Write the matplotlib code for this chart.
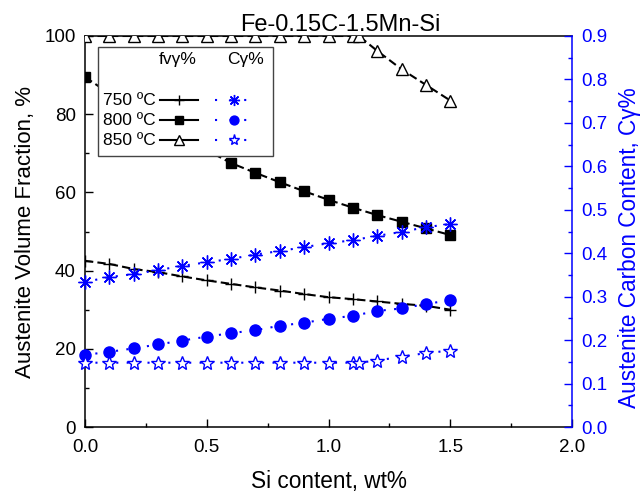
import matplotlib
matplotlib.use("Agg")
import matplotlib.pyplot as plt
from matplotlib.lines import Line2D
from matplotlib.patches import Rectangle
from matplotlib.ticker import MultipleLocator, FormatStrFormatter

plt.rcParams['font.family'] = ['Liberation Sans', 'DejaVu Sans']

# ---------------- data ----------------
si = [0.0, 0.1, 0.2, 0.3, 0.4, 0.5, 0.6, 0.7, 0.8, 0.9, 1.0, 1.1, 1.2, 1.3, 1.4, 1.5]
si_850 = [0.0, 0.1, 0.2, 0.3, 0.4, 0.5, 0.6, 0.7, 0.8, 0.9, 1.0, 1.1, 1.125, 1.2, 1.3, 1.4, 1.5]

fv_750 = [42.5, 41.7, 40.4, 39.6, 38.5, 37.5, 36.6, 35.7, 34.9, 34.0, 33.2, 32.7, 32.1, 31.5, 31.0, 30.0]
fv_800 = [89.5, 85.3, 81.3, 77.6, 74.2, 70.8, 67.5, 65.0, 62.6, 60.3, 58.1, 56.1, 54.2, 52.5, 50.8, 49.1]
fv_850 = [100, 100, 100, 100, 100, 100, 100, 100, 100, 100, 100, 100, 100, 96.2, 91.5, 87.5, 83.5]

c_750 = [0.334, 0.345, 0.352, 0.361, 0.371, 0.379, 0.387, 0.397, 0.405, 0.414, 0.423, 0.430, 0.440, 0.449, 0.460, 0.467]
c_800 = [0.166, 0.173, 0.181, 0.190, 0.199, 0.208, 0.216, 0.223, 0.233, 0.240, 0.249, 0.256, 0.267, 0.273, 0.283, 0.292]
c_850 = [0.148, 0.148, 0.148, 0.148, 0.148, 0.148, 0.148, 0.148, 0.148, 0.148, 0.148, 0.148, 0.148, 0.153, 0.162, 0.170, 0.176]

temps = ["750 ºC", "800 ºC", "850 ºC"]
title = "Fe-0.15C-1.5Mn-Si"
xlabel = "Si content, wt%"
ylabel_l = "Austenite Volume Fraction, %"
ylabel_r = "Austenite Carbon Content, Cγ%"
hdr_fv = "fvγ%"
hdr_c = "Cγ%"

# ---------------- styles ----------------
BLUE = '#0000ff'
dash = (0, (4, 2))
dot = (0, (1, 4))
fv_styles = [dict(marker='+', ms=9, mfc='black', mec='black', mew=1.0),
             dict(marker='s', ms=7, mfc='black', mec='black', mew=1.0),
             dict(marker='^', ms=8.5, mfc='white', mec='black', mew=1.0)]
c_styles = [dict(marker=(8, 2, 0), ms=10, mfc=BLUE, mec=BLUE, mew=1.0),
            dict(marker='o', ms=8, mfc=BLUE, mec=BLUE, mew=1.0),
            dict(marker='*', ms=10, mfc='white', mec=BLUE, mew=1.0)]

fig = plt.figure(figsize=(6.41, 4.96), dpi=100)
ax = fig.add_axes([85/641, 1-427/496, 487/641, 391/496])
ax2 = ax.twinx()

xs_fv = [si, si, si_850]
ys_fv = [fv_750, fv_800, fv_850]
xs_c = [si, si, si_850]
ys_c = [c_750, c_800, c_850]

for x, y, st in zip(xs_fv, ys_fv, fv_styles):
    ax.plot(x, y, color='black', lw=1.5, ls=dash, zorder=3, **st)
for x, y, st in zip(xs_c, ys_c, c_styles):
    ax2.plot(x, y, color=BLUE, lw=1.5, ls=dot, clip_on=False, zorder=3, **st)

ax.set_xlim(0, 2.0)
ax.set_ylim(0, 100)
ax2.set_ylim(0, 0.9)
ax.xaxis.set_major_locator(MultipleLocator(0.5))
ax.xaxis.set_minor_locator(MultipleLocator(0.25))
ax.yaxis.set_major_locator(MultipleLocator(20))
ax.yaxis.set_minor_locator(MultipleLocator(10))
ax2.yaxis.set_major_locator(MultipleLocator(0.1))
ax2.yaxis.set_minor_locator(MultipleLocator(0.05))
ax.xaxis.set_major_formatter(FormatStrFormatter('%.1f'))
ax2.yaxis.set_major_formatter(FormatStrFormatter('%.1f'))

ax.tick_params(which='both', direction='in', top=False, right=False, width=1.0,
               labelsize=13.5, colors='black')
ax.tick_params(axis='y', pad=6.5)
ax.tick_params(axis='x', pad=9)
ax.tick_params(which='major', length=6)
ax.tick_params(which='minor', length=3)
ax2.tick_params(which='both', direction='in', width=1.0, labelsize=13.5,
                colors=BLUE, pad=7)
ax2.tick_params(which='major', length=6)
ax2.tick_params(which='minor', length=3)

for s in ['left', 'bottom', 'top']:
    ax.spines[s].set_linewidth(1.1)
ax.spines['right'].set_visible(False)
for s in ['left', 'bottom', 'top']:
    ax2.spines[s].set_visible(False)
ax2.spines['right'].set_color(BLUE)
ax2.spines['right'].set_linewidth(1.1)

ax.set_xlabel(xlabel, fontsize=16.3, labelpad=10)
ax.set_ylabel(ylabel_l, fontsize=16, labelpad=6)
ax2.set_ylabel(ylabel_r, fontsize=16.3, color=BLUE)
ax2.yaxis.set_label_coords(1.0 + 46/487, 0.458)
ax.set_title(title, fontsize=17, pad=0.5, x=(340 - 85) / 487)

# ---------------- manual legend ----------------
T = ax.transAxes
box = Rectangle((0.027, 0.693), 0.359, 0.279, transform=T, facecolor='white',
                edgecolor='#444444', lw=1.0, zorder=10)
ax.add_patch(box)
ax.text(0.191, 0.941, hdr_fv, transform=T, ha='center', va='center', fontsize=12.5, zorder=11)
ax.text(0.330, 0.941, hdr_c, transform=T, ha='center', va='center', fontsize=12.5, zorder=11)
rows = [0.836, 0.785, 0.734]
for yy, lab, fs, cs in zip(rows, temps, fv_styles, c_styles):
    ax.text(0.036, yy, lab, transform=T, ha='left', va='center', fontsize=12.5, zorder=11)
    ax.add_line(Line2D([0.154, 0.232], [yy, yy], transform=T, color='black', lw=1.5,
                       ls='-', zorder=11))
    ax.add_line(Line2D([0.193], [yy], transform=T, color='black', ls='none', zorder=12,
                       **{**fs, 'ms': fs['ms'] * 0.8}))
    ax.add_line(Line2D([0.267, 0.345], [yy, yy], transform=T, color=BLUE, lw=1.5,
                       ls=(0, (1, 6)), zorder=11))
    ax.add_line(Line2D([0.306], [yy], transform=T, color=BLUE, ls='none', zorder=12,
                       **{**cs, 'ms': cs['ms'] * 0.8}))

fig.savefig("out.png", dpi=100)
